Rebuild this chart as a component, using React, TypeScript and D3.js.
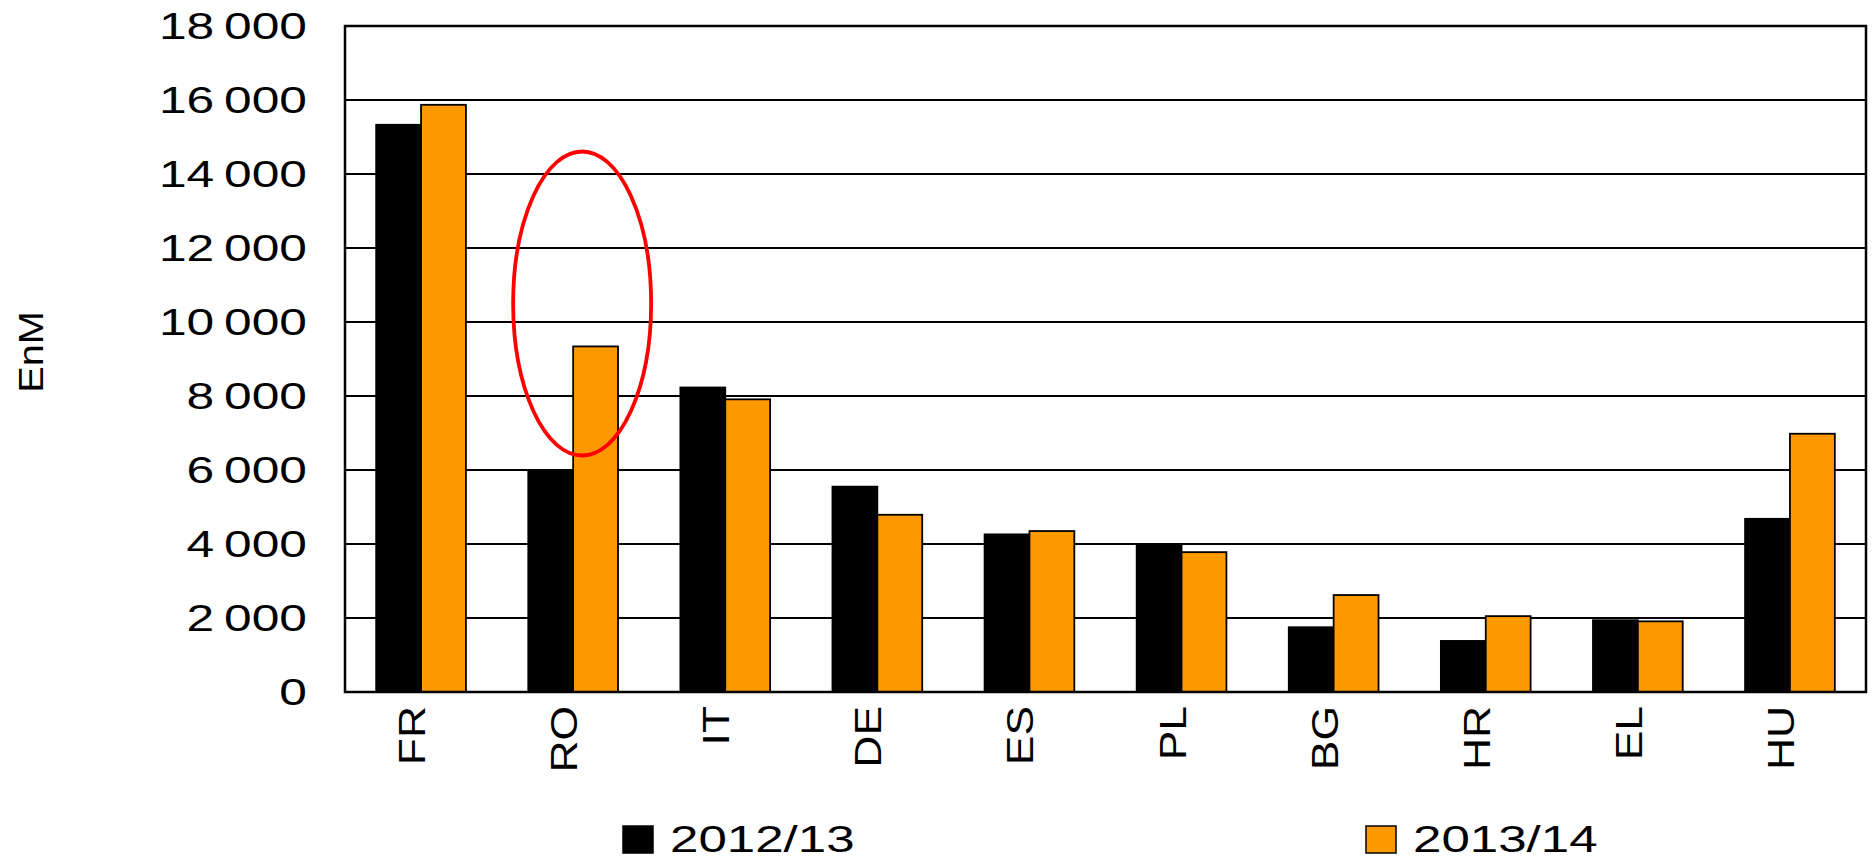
import React, { Component } from 'react';
import * as d3 from 'd3';

const countries = ['FR', 'RO', 'IT', 'DE', 'ES', 'PL', 'BG', 'HR', 'EL', 'HU'];
const series = ['2012/13', '2013/14'];
const values1213 = [15330, 5990, 8230, 5550, 4260, 3990, 1750, 1380, 1940, 4680];
const values1314 = [15870, 9340, 7910, 4790, 4350, 3780, 2620, 2050, 1910, 6980];
const yTicks = [0, 2000, 4000, 6000, 8000, 10000, 12000, 14000, 16000, 18000];
const colors = ['#000000', '#FF9900'];
const font = '"Liberation Sans", Arial, sans-serif';

class App extends Component {
    myRef: any;
    constructor(props: any) {
        super(props);
        this.myRef = React.createRef();
    }
    componentDidMount() {
        const w = 1874, h = 860;
        const left = 345, right = 1866, top = 26, bottom = 692;

        d3.select(this.myRef.current).selectAll('*').remove();
        const svg = d3.select(this.myRef.current)
            .append('svg')
            .attr('width', w)
            .attr('height', h)
            .style('position', 'absolute')
            .style('left', 0)
            .style('top', 0)
            .style('background-color', '#FFFFFF')
            .style('font-family', font);

        const x0 = d3.scaleBand().domain(countries).range([left, right])
            .paddingInner(0.41).paddingOuter(0.205);
        const x1 = d3.scaleBand().domain(series).range([0, x0.bandwidth()]);
        const y = d3.scaleLinear().domain([0, 18000]).range([bottom, top]);

        // grid lines
        svg.append('g').selectAll('line')
            .data(yTicks)
            .enter()
            .append('line')
            .attr('x1', left)
            .attr('x2', right)
            .attr('y1', d => y(d))
            .attr('y2', d => y(d))
            .attr('stroke', '#000')
            .attr('stroke-width', 2.2);

        // tick labels (stretched wide like the original)
        svg.append('g').selectAll('text')
            .data(yTicks)
            .enter()
            .append('text')
            .attr('transform', d => `translate(307,${y(d)}) scale(1.38,1)`)
            .attr('dy', '0.36em')
            .attr('text-anchor', 'end')
            .attr('font-size', 36)
            .attr('fill', '#000')
            .text(d => d === 0 ? '0' : d3.format(',')(d).replace(',', '\u2009'));

        // bars
        const data = [values1213, values1314];
        data.forEach((vals, si) => {
            svg.append('g').selectAll('rect')
                .data(vals)
                .enter()
                .append('rect')
                .attr('x', (d, i) => (x0(countries[i]) as number) + (x1(series[si]) as number))
                .attr('y', d => y(d))
                .attr('width', x1.bandwidth())
                .attr('height', d => bottom - y(d))
                .attr('fill', colors[si])
                .attr('stroke', '#000')
                .attr('stroke-width', 1.8);
        });

        // frame
        svg.append('rect')
            .attr('x', left)
            .attr('y', top)
            .attr('width', right - left)
            .attr('height', bottom - top)
            .attr('fill', 'none')
            .attr('stroke', '#000')
            .attr('stroke-width', 2.5);

        // category labels, rotated
        svg.append('g').selectAll('text')
            .data(countries)
            .enter()
            .append('text')
            .attr('transform', d => `translate(${(x0(d) as number) + x0.bandwidth() / 2 + 4},706) rotate(-90) scale(1.2,1)`)
            .attr('text-anchor', 'end')
            .attr('font-size', 37)
            .attr('fill', '#000')
            .text(d => d);

        // y axis title
        svg.append('text')
            .attr('transform', 'translate(43,352) rotate(-90) scale(1.1,1)')
            .attr('text-anchor', 'middle')
            .attr('font-size', 36)
            .attr('fill', '#000')
            .text('EnM');

        // red ellipse highlight around RO
        svg.append('ellipse')
            .attr('cx', (x0('RO') as number) + x0.bandwidth() / 2 + 9)
            .attr('cy', y(10500))
            .attr('rx', 69)
            .attr('ry', 152)
            .attr('fill', 'none')
            .attr('stroke', '#FF0000')
            .attr('stroke-width', 3.8);

        // legend
        const legendX = [623, 1366];
        series.forEach((s, i) => {
            svg.append('rect')
                .attr('x', legendX[i])
                .attr('y', 826)
                .attr('width', 30)
                .attr('height', 27)
                .attr('fill', colors[i])
                .attr('stroke', '#000')
                .attr('stroke-width', 1.5);
            svg.append('text')
                .attr('transform', `translate(${legendX[i] + 47},852) scale(1.38,1)`)
                .attr('font-size', 37)
                .attr('fill', '#000')
                .text(s);
        });
    }

    render() {
        return <>
            <div ref={this.myRef}></div>
        </>
    }
}

export default App;
